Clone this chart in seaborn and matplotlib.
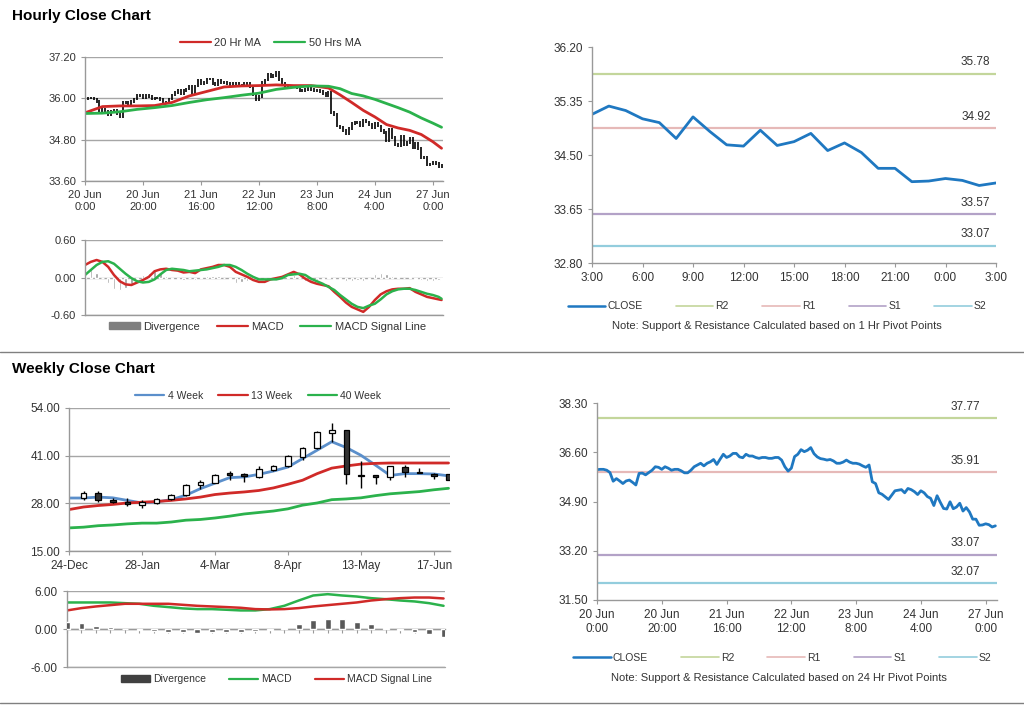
import numpy as np
import matplotlib
matplotlib.use("Agg")
import matplotlib.pyplot as plt
from matplotlib.lines import Line2D
from matplotlib.patches import Patch
import seaborn as sns

sns.set_style("white")
plt.rcParams['font.family'] = ['Liberation Sans', 'DejaVu Sans']

# ---------------- hourly data (20 Jun 0:00 .. 27 Jun 3:00) ----------------
close = [36.00, 36.01, 36.01, 35.98, 35.90, 35.60, 35.69, 35.61, 35.52, 35.61,
         35.64, 35.56, 35.47, 35.87, 35.88, 35.82, 35.90, 35.98, 36.10, 36.08,
         36.01, 36.10, 36.05, 35.98, 36.01, 36.01, 35.96, 35.89, 35.89, 35.98,
         36.10, 36.16, 36.22, 36.13, 36.22, 36.27, 36.35, 36.18, 36.36, 36.53,
         36.42, 36.47, 36.56, 36.56, 36.44, 36.41, 36.53, 36.47, 36.47, 36.42,
         36.39, 36.42, 36.42, 36.39, 36.39, 36.42, 36.42, 36.33, 36.10, 35.95,
         36.05, 36.45, 36.53, 36.69, 36.62, 36.67, 36.76, 36.55, 36.44, 36.38,
         36.36, 36.33, 36.35, 36.30, 36.22, 36.22, 36.26, 36.33, 36.26, 36.22,
         36.22, 36.19, 36.13, 36.08, 36.16, 35.58, 35.52, 35.20, 35.15, 35.06,
         34.97, 35.12, 35.27, 35.29, 35.31, 35.20, 35.35, 35.31, 35.24,
         35.14, 35.27, 35.20, 35.07, 35.01, 34.76, 35.10, 34.87, 34.66, 34.64,
         34.89, 34.65, 34.71, 34.84, 34.57, 34.69, 34.54, 34.29, 34.29, 34.08,
         34.09, 34.13, 34.10, 34.02, 34.06]
hour_ticks = [0, 20, 40, 60, 80, 100, 120]
hour_labels = ["20 Jun\n0:00", "20 Jun\n20:00", "21 Jun\n16:00", "22 Jun\n12:00",
               "23 Jun\n8:00", "24 Jun\n4:00", "27 Jun\n0:00"]

ma_hours = [0, 6, 12, 18, 24, 30, 36, 42, 48, 54, 60, 66, 72, 78, 84, 88, 92,
            96, 100, 104, 108, 112, 116, 120, 123]
ma20 = [35.58, 35.76, 35.78, 35.78, 35.79, 35.88, 36.07, 36.20, 36.33, 36.36,
        36.37, 36.39, 36.37, 36.37, 36.30, 36.10, 35.88, 35.65, 35.46, 35.24,
        35.14, 35.07, 34.95, 34.74, 34.55]
ma50 = [35.56, 35.57, 35.61, 35.68, 35.73, 35.79, 35.88, 35.96, 36.02, 36.09,
        36.15, 36.26, 36.32, 36.36, 36.35, 36.28, 36.14, 36.07, 35.97, 35.85,
        35.73, 35.60, 35.43, 35.28, 35.16]

macd_hours = list(range(0, 124, 2)) + [123]
macd_h = [0.20, 0.25, 0.28, 0.25, 0.17, 0.04, -0.06, -0.11, -0.12, -0.08,
          -0.04, 0.01, 0.10, 0.13, 0.14, 0.12, 0.11, 0.08, 0.09, 0.07,
          0.13, 0.15, 0.17, 0.20, 0.20, 0.17, 0.09, 0.05, 0.01, -0.04,
          -0.07, -0.07, -0.03, -0.01, 0.01, 0.05, 0.09, 0.05, -0.02, -0.07,
          -0.10, -0.12, -0.14, -0.23, -0.31, -0.40, -0.47, -0.51, -0.55, -0.47,
          -0.36, -0.27, -0.22, -0.19, -0.18, -0.18, -0.17, -0.23, -0.27, -0.31,
          -0.33, -0.35, -0.36]
signal_h = [0.04, 0.12, 0.20, 0.25, 0.26, 0.22, 0.14, 0.06, -0.01, -0.06,
            -0.08, -0.07, -0.03, 0.05, 0.12, 0.14, 0.13, 0.12, 0.10, 0.11,
            0.12, 0.13, 0.15, 0.17, 0.20, 0.20, 0.17, 0.12, 0.06, 0.01,
            -0.03, -0.03, -0.03, -0.03, -0.01, 0.04, 0.05, 0.06, 0.04, -0.02,
            -0.06, -0.10, -0.15, -0.20, -0.28, -0.35, -0.42, -0.47, -0.49, -0.45,
            -0.42, -0.35, -0.27, -0.22, -0.19, -0.18, -0.18, -0.20, -0.23, -0.26,
            -0.28, -0.31, -0.34]

# last 25 hours for the 1 hr pivot chart
pivot_hour_labels = ["3:00", "6:00", "9:00", "12:00", "15:00", "18:00", "21:00", "0:00", "3:00"]
level_names = ["R2", "R1", "S1", "S2"]
level_colors = ["#C3D69B", "#E6B9B8", "#B3A2C7", "#93CDDD"]
levels_1h = [35.78, 34.92, 33.57, 33.07]
levels_24h = [37.77, 35.91, 33.07, 32.07]

# ---------------- weekly data (24-Dec .. 24-Jun) ----------------
week_tick_labels = ["24-Dec", "28-Jan", "4-Mar", "8-Apr", "13-May", "17-Jun"]
nan = np.nan
wk_open = [nan, 29.45, 30.8, 28.9, 28.4, 27.6, 28.1, 29.2, 30.2, 33.1, 33.6, 36.0, 36.1, 35.2,
           37.2, 38.1, 40.6, 43.1, 47.2, 47.9, 35.7, 35.5, 35.2, 37.9, 36.5, 36.1, 35.9]
wk_close = [nan, 30.9, 28.8, 28.5, 27.7, 28.3, 29.2, 30.3, 33.1, 33.8, 35.8, 35.8, 35.4, 37.4,
            38.1, 40.8, 43.1, 47.4, 47.9, 35.9, 35.5, 35.3, 38.1, 36.6, 36.3, 35.5, 34.4]
wk_high = [nan, 31.3, 31.4, 29.5, 29.5, 28.8, 29.4, 30.6, 33.4, 34.3, 36.1, 36.7, 36.4, 38.1,
           38.4, 41.1, 43.4, 47.7, 49.9, 47.9, 39.5, 35.6, 38.3, 38.5, 37.75, 36.3, 36.1]
wk_low = [nan, 29.0, 28.4, 28.2, 27.3, 26.7, 27.7, 29.0, 29.9, 32.0, 33.5, 34.5, 33.8, 35.0,
          36.8, 37.9, 39.9, 42.9, 44.7, 33.2, 32.3, 33.2, 34.3, 35.3, 36.2, 34.6, 34.3]
ma4 = [29.45, 29.45, 29.7, 29.5, 28.8, 28.1, 28.4, 29.0, 30.2, 32.0, 33.5, 35.0, 35.2, 35.9,
       36.8, 37.9, 40.2, 42.5, 44.8, 43.2, 41.1, 38.4, 35.6, 36.1, 36.1, 36.0, 35.5]
ma13 = [26.3, 27.0, 27.4, 27.7, 28.1, 28.3, 28.5, 28.8, 29.2, 29.7, 30.4, 30.8, 31.1, 31.5,
        32.2, 33.2, 34.3, 36.1, 37.6, 38.2, 38.7, 38.9, 39.0, 39.0, 39.0, 39.0, 39.0]
ma40 = [21.3, 21.5, 21.9, 22.1, 22.4, 22.6, 22.6, 22.9, 23.4, 23.6, 24.0, 24.5, 25.1, 25.5,
        25.9, 26.5, 27.5, 28.1, 29.0, 29.2, 29.5, 30.1, 30.6, 30.9, 31.2, 31.7, 32.1]
wk_macd = [4.19, 4.19, 4.19, 4.19, 4.08, 3.98, 3.66, 3.46, 3.25, 3.14, 3.14, 3.04, 2.93, 2.93,
           3.14, 3.66, 4.50, 5.29, 5.50, 5.29, 5.13, 4.87, 4.71, 4.50, 4.35, 4.08, 3.66]
wk_signal = [2.93, 3.30, 3.56, 3.77, 3.98, 3.98, 3.98, 3.98, 3.82, 3.66, 3.56, 3.46, 3.35, 3.14,
             3.09, 3.14, 3.30, 3.56, 3.77, 3.98, 4.19, 4.50, 4.71, 4.87, 4.97, 4.97, 4.82]
wk_div = [1.05, 0.94, 0.52, 0.37, 0.0, -0.1, -0.3, -0.5, -0.55, -0.7, -0.55, -0.55, -0.4, -0.35,
          -0.15, 0.2, 0.75, 1.35, 1.6, 1.6, 1.05, 0.75, 0.15, -0.15, -0.5, -0.85, -1.25]

# ---------------- style ----------------
RED = "#D02A28"
GREEN = "#2BB24C"
BLUE_MA = "#5B8FCB"
BLUE = "#1F78C1"
GRID = "#A6A6A6"
AXC = "#999999"
TXT = "#333333"
FS = 8

fig = plt.figure(figsize=(10.24, 7.06), dpi=100)


def px(l, t, r, b):
    W, H = 1024, 706
    return [l / W, 1 - b / H, (r - l) / W, (b - t) / H]


def style_axes(ax, grid=True):
    sns.despine(ax=ax, top=True, right=True)
    for s in ["left", "bottom"]:
        ax.spines[s].set_color(AXC)
        ax.spines[s].set_linewidth(1)
    ax.tick_params(axis="both", labelsize=FS, colors=TXT, length=3, width=0.8,
                   direction="out", left=True, bottom=True)
    ax.tick_params(axis="both", color=AXC)
    if grid:
        ax.yaxis.grid(True, color=GRID, lw=1)
        ax.set_axisbelow(True)
    ax.set_xlabel("")
    ax.set_ylabel("")


hours = np.arange(len(close))
opens = [close[0]] + close[:-1]
lo = np.minimum(opens, close)
hi = np.maximum(opens, close)

# ---------------- top left: hourly candles + MAs ----------------
ax1 = fig.add_axes(px(85, 57, 443, 181))
ax1.vlines(hours, lo - 0.04, hi + 0.04, color="black", lw=1.2)
sns.lineplot(x=ma_hours, y=ma20, ax=ax1, color=RED, lw=2, label="20 Hr MA")
sns.lineplot(x=ma_hours, y=ma50, ax=ax1, color=GREEN, lw=2, label="50 Hrs MA")
ax1.set_xlim(0, 123.5)
ax1.set_ylim(33.6, 37.2)
ax1.set_yticks([33.6, 34.8, 36.0, 37.2])
ax1.set_yticklabels([f"{v:.2f}" for v in [33.6, 34.8, 36.0, 37.2]])
ax1.set_xticks(hour_ticks)
ax1.set_xticklabels(hour_labels)
style_axes(ax1)
ax1.get_legend().remove()
fig.legend(handles=[Line2D([], [], color=RED, lw=1.6), Line2D([], [], color=GREEN, lw=1.6)],
           labels=["20 Hr MA", "50 Hrs MA"], loc="center", bbox_to_anchor=(0.264, 0.939),
           ncol=2, frameon=False, fontsize=FS, handlelength=2.8, columnspacing=1.2,
           handletextpad=0.3, labelcolor=TXT)

# ---------------- top left: hourly MACD ----------------
ax2 = fig.add_axes(px(85, 240, 443, 315))
div_h = np.array(macd_h) - np.array(signal_h)
ax2.bar(macd_hours, div_h, width=0.8, color="#9A9A9A")
sns.lineplot(x=macd_hours, y=macd_h, ax=ax2, color=RED, lw=1.8)
sns.lineplot(x=macd_hours, y=signal_h, ax=ax2, color=GREEN, lw=1.8)
ax2.set_xlim(0, 123.5)
ax2.set_ylim(-0.6, 0.6)
ax2.set_yticks([-0.6, 0, 0.6])
ax2.set_yticklabels(["-0.60", "0.00", "0.60"])
ax2.set_xticks([])
style_axes(ax2)
fig.legend(handles=[Patch(color="#7F7F7F"), Line2D([], [], color=RED, lw=1.6),
                    Line2D([], [], color=GREEN, lw=1.6)],
           labels=["Divergence", "MACD", "MACD Signal Line"], loc="center",
           bbox_to_anchor=(0.261, 0.537), ncol=3, frameon=False, fontsize=FS,
           handlelength=2.8, handleheight=0.6, columnspacing=1.5, handletextpad=0.3,
           labelcolor=TXT)

# ---------------- top right: 1 hr pivot ----------------
ax3 = fig.add_axes(px(592, 47, 996, 263))
last = close[-25:]
for name, lev, col in zip(level_names, levels_1h, level_colors):
    ax3.axhline(lev, color=col, lw=1.6)
    ax3.annotate(f"{lev:.2f}", xy=(1, lev), xycoords=ax3.get_yaxis_transform(),
                 xytext=(-4, 4), textcoords="offset points", ha="right", va="bottom",
                 fontsize=FS + 0.5, color=TXT)
sns.lineplot(x=np.arange(25), y=last, ax=ax3, color=BLUE, lw=2)
ax3.set_xlim(0, 24)
ax3.set_ylim(32.8, 36.2)
yt = [32.80, 33.65, 34.50, 35.35, 36.20]
ax3.set_yticks(yt)
ax3.set_yticklabels([f"{v:.2f}" for v in yt])
ax3.set_xticks(range(0, 25, 3))
ax3.set_xticklabels(pivot_hour_labels)
style_axes(ax3, grid=False)
ax3.tick_params(axis="both", labelsize=FS + 0.5)
leg_handles = [Line2D([], [], color=BLUE, lw=1.8)] + [Line2D([], [], color=c, lw=1.2) for c in level_colors]
fig.legend(handles=leg_handles, labels=["CLOSE"] + level_names, loc="center",
           bbox_to_anchor=(0.759, 0.566), ncol=5, frameon=False, fontsize=FS - 0.5,
           handlelength=3.6, columnspacing=3.2, handletextpad=0.2, labelcolor=TXT)
fig.text(0.759, 0.538, "Note: Support & Resistance Calculated based on 1 Hr Pivot Points",
         ha="center", va="center", fontsize=FS, color=TXT)

# ---------------- bottom left: weekly candles + MAs ----------------
weeks = np.arange(len(wk_close))
ax4 = fig.add_axes(px(69, 408, 450, 551))
sns.lineplot(x=weeks, y=ma4, ax=ax4, color=BLUE_MA, lw=2)
sns.lineplot(x=weeks, y=ma13, ax=ax4, color=RED, lw=2)
sns.lineplot(x=weeks, y=ma40, ax=ax4, color=GREEN, lw=2)
ax4.vlines(weeks, wk_low, wk_high, color="black", lw=1, zorder=3)
wo = np.array(wk_open)
wc = np.array(wk_close)
up = wc >= wo
body_lo = np.minimum(wo, wc)
body_h = np.maximum(np.abs(wc - wo), 0.35)
ax4.bar(weeks[up], body_h[up], bottom=body_lo[up], width=0.38, color="white",
        edgecolor="black", lw=0.9, zorder=3)
ax4.bar(weeks[~up], body_h[~up], bottom=body_lo[~up], width=0.38, color="#333333",
        edgecolor="black", lw=0.9, zorder=3)
ax4.set_xlim(0, 26.1)
ax4.set_ylim(15, 54)
ax4.set_yticks([15, 28, 41, 54])
ax4.set_yticklabels(["15.00", "28.00", "41.00", "54.00"])
ax4.set_xticks(range(0, 26, 5))
ax4.set_xticklabels(week_tick_labels)
style_axes(ax4)
ax4.tick_params(axis="both", labelsize=FS + 0.5)
fig.legend(handles=[Line2D([], [], color=BLUE_MA, lw=1.6), Line2D([], [], color=RED, lw=1.6),
                    Line2D([], [], color=GREEN, lw=1.6)],
           labels=["4 Week", "13 Week", "40 Week"], loc="center", bbox_to_anchor=(0.252, 0.439),
           ncol=3, frameon=False, fontsize=FS - 0.5, handlelength=2.8, columnspacing=1.5,
           handletextpad=0.3, labelcolor=TXT)

# ---------------- bottom left: weekly MACD ----------------
ax5 = fig.add_axes(px(67, 591, 445, 667))
ax5.bar(weeks, wk_div, width=0.4, color="#595959", zorder=3)
sns.lineplot(x=weeks, y=wk_macd, ax=ax5, color=GREEN, lw=1.8)
sns.lineplot(x=weeks, y=wk_signal, ax=ax5, color=RED, lw=1.8)
ax5.set_xlim(0, 26.1)
ax5.set_ylim(-6, 6)
ax5.set_yticks([-6, 0, 6])
ax5.set_yticklabels(["-6.00", "0.00", "6.00"])
ax5.set_xticks(weeks)
ax5.set_xticklabels([])
style_axes(ax5)
ax5.tick_params(axis="x", length=3)
ax5.spines["bottom"].set_position(("data", 0))
ax5.axhline(-6, color=GRID, lw=1, clip_on=False)
ax5.tick_params(axis="both", labelsize=FS + 0.5)
fig.legend(handles=[Patch(color="#404040"), Line2D([], [], color=GREEN, lw=1.6),
                    Line2D([], [], color=RED, lw=1.6)],
           labels=["Divergence", "MACD", "MACD Signal Line"], loc="center",
           bbox_to_anchor=(0.27, 0.038), ncol=3, frameon=False, fontsize=FS - 0.5,
           handlelength=2.8, handleheight=0.6, columnspacing=2.2, handletextpad=0.3,
           labelcolor=TXT)

# ---------------- bottom right: 24 hr pivot ----------------
ax6 = fig.add_axes(px(597, 403, 997, 600))
for name, lev, col in zip(level_names, levels_24h, level_colors):
    ax6.axhline(lev, color=col, lw=1.6)
    ax6.annotate(f"{lev:.2f}", xy=(1, lev), xycoords=ax6.get_yaxis_transform(),
                 xytext=(-12, 4), textcoords="offset points", ha="right", va="bottom",
                 fontsize=FS + 0.5, color=TXT)
sns.lineplot(x=hours, y=close, ax=ax6, color=BLUE, lw=2)
ax6.set_xlim(0, 123.5)
ax6.set_ylim(31.5, 38.3)
yt = [31.50, 33.20, 34.90, 36.60, 38.30]
ax6.set_yticks(yt)
ax6.set_yticklabels([f"{v:.2f}" for v in yt])
ax6.set_xticks(hour_ticks)
ax6.set_xticklabels(hour_labels)
style_axes(ax6, grid=False)
ax6.tick_params(axis="both", labelsize=FS + 0.5)
fig.legend(handles=leg_handles, labels=["CLOSE"] + level_names, loc="center",
           bbox_to_anchor=(0.764, 0.068), ncol=5, frameon=False, fontsize=FS - 0.5,
           handlelength=3.6, columnspacing=3.2, handletextpad=0.2, labelcolor=TXT)
fig.text(0.761, 0.0397, "Note: Support & Resistance Calculated based on 24 Hr Pivot Points",
         ha="center", va="center", fontsize=FS, color=TXT)

# ---------------- titles and separators ----------------
fig.text(12 / 1024, 1 - 16 / 706, "Hourly Close Chart", fontsize=11, fontweight="bold",
         va="center", ha="left", color="black")
fig.text(12 / 1024, 1 - 369 / 706, "Weekly Close Chart", fontsize=11, fontweight="bold",
         va="center", ha="left", color="black")
for yy in [352, 703]:
    fig.add_artist(Line2D([0, 1], [1 - yy / 706, 1 - yy / 706], transform=fig.transFigure,
                          color="#808080", lw=1))

fig.savefig("out.png", dpi=100)
